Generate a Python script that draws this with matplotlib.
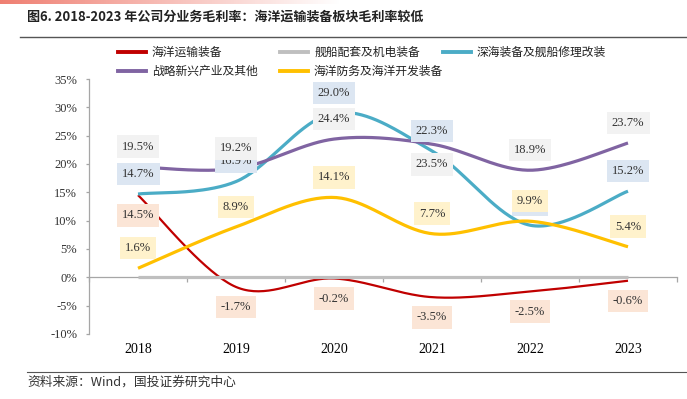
import numpy as np
import matplotlib
matplotlib.use("Agg")
import matplotlib.pyplot as plt
from matplotlib.lines import Line2D
from matplotlib.colors import LinearSegmentedColormap

# ---------------- data ----------------
years = ["2018", "2019", "2020", "2021", "2022", "2023"]
series_names = ["海洋运输装备", "舰船配套及机电装备", "深海装备及舰船修理改装",
                "战略新兴产业及其他", "海洋防务及海洋开发装备"]
marine_transport = [14.5, -1.7, -0.2, -3.5, -2.5, -0.6]
ship_supporting = [0.0, 0.0, 0.0, 0.0, 0.0, 0.0]
deep_sea = [14.7, 16.9, 29.0, 22.3, 9.2, 15.2]
strategic = [19.5, 19.2, 24.4, 23.5, 18.9, 23.7]
defense = [1.6, 8.9, 14.1, 7.7, 9.9, 5.4]
y_ticks = [-10, -5, 0, 5, 10, 15, 20, 25, 30, 35]

title = "图6. 2018-2023 年公司分业务毛利率：海洋运输装备板块毛利率较低"
source = "资料来源：Wind，国投证券研究中心"

# ---------------- styles ----------------
line_colors = ["#C00000", "#BFBFBF", "#4BACC6", "#8064A2", "#FFC000"]
line_widths = [1.6, 2.3, 2.3, 2.3, 2.3]
box_colors = ["#FBE5D6", None, "#DCE6F2", "#F2F2F2", "#FFF2CC"]
label_dirs = [
    [-1, -1, -1, -1, -1, -1],
    None,
    [1, 1, 1, 1, 1, 1],
    [1, 1, 1, -1, 1, 1],
    [1, 1, 1, 1, 1, 1],
]
# legend slots (figure pixels: line start x, row y)
legend_slots = [(118, 52), (280, 52), (443, 52), (118, 71), (280, 71)]

CJK = ["Noto Sans CJK SC", "DejaVu Sans"]
SERIF = ["Liberation Serif", "DejaVu Serif"]
plt.rcParams["font.family"] = SERIF

W, H = 687, 399


def smooth(xs, ys, n=40):
    """Excel-like smoothed line (Bezier with Catmull-Rom control points)."""
    xs = np.asarray(xs, float)
    ys = np.asarray(ys, float)
    px, py = [], []
    m = len(xs)
    for i in range(m - 1):
        i0 = max(i - 1, 0)
        i3 = min(i + 2, m - 1)
        p0 = np.array([xs[i], ys[i]])
        p3 = np.array([xs[i + 1], ys[i + 1]])
        c1 = p0 + (np.array([xs[i + 1], ys[i + 1]]) - np.array([xs[i0], ys[i0]])) / 6.0
        c2 = p3 - (np.array([xs[i3], ys[i3]]) - np.array([xs[i], ys[i]])) / 6.0
        t = np.linspace(0, 1, n)[:, None]
        b = ((1 - t) ** 3) * p0 + 3 * ((1 - t) ** 2) * t * c1 + 3 * (1 - t) * t ** 2 * c2 + t ** 3 * p3
        if i > 0:
            b = b[1:]
        px.extend(b[:, 0])
        py.extend(b[:, 1])
    return np.array(px), np.array(py)


fig = plt.figure(figsize=(W / 100, H / 100), dpi=100)
ax = fig.add_axes([89 / W, 1 - 334 / H, (677 - 89) / W, (334 - 79) / H])

x = np.arange(len(years))
all_series = [marine_transport, ship_supporting, deep_sea, strategic, defense]

for k, vals in enumerate(all_series):
    sx, sy = smooth(x, vals)
    ax.plot(sx, sy, color=line_colors[k], lw=line_widths[k], solid_capstyle="butt",
            zorder=3 + k * 0.1)

for k, vals in enumerate(all_series):
    if label_dirs[k] is None:
        continue
    for i, v in enumerate(vals):
        d = label_dirs[k][i]
        ax.annotate(f"{v:.1f}%", (x[i], v), xytext=(0, 14.5 * d), textcoords="offset points",
                    ha="center", va="center", fontsize=9, family=SERIF, color="#333333",
                    bbox=dict(boxstyle="square,pad=0.42", fc=box_colors[k], ec="none"),
                    zorder=10 + k)

ax.set_xlim(-0.5, 5.5)
ax.set_ylim(-10, 35)
ax.set_yticks(y_ticks)
ax.set_yticklabels([f"{t}%" for t in y_ticks])
ax.set_xticks(x)
ax.set_xticklabels(years)
ax.set_xticks(np.arange(-0.5, 6, 1), minor=True)
ax.tick_params(axis="x", which="major", length=0, pad=47)
ax.tick_params(axis="x", which="minor", length=3.5, color="#A6A6A6", width=0.9, direction="out")
ax.tick_params(axis="y", length=2.5, color="#A6A6A6", width=0.9, pad=6)
for lab in ax.get_xticklabels() + ax.get_yticklabels():
    lab.set_fontfamily(SERIF)
    lab.set_fontsize(9)
    lab.set_color("#333333")

for s in ["top", "right"]:
    ax.spines[s].set_visible(False)
ax.spines["bottom"].set_position(("data", 0))
ax.spines["bottom"].set_color("#A6A6A6")
ax.spines["bottom"].set_linewidth(0.9)
ax.spines["left"].set_color("#A6A6A6")
ax.spines["left"].set_linewidth(0.9)
ax.set_facecolor("none")

# legend (manual placement)
for k, (lx, ly) in enumerate(legend_slots):
    yy = 1 - ly / H
    fig.add_artist(Line2D([lx / W, (lx + 28) / W], [yy, yy], color=line_colors[k], lw=2.8))
    fig.text((lx + 34) / W, yy, series_names[k], family=CJK, fontsize=8.5,
             color="#222222", va="center", ha="left")

# top gradient bar
grad = np.linspace(0, 1, 256)[None, :]
gax = fig.add_axes([0, 1 - 4 / H, 340 / W, 4 / H])
cmap = LinearSegmentedColormap.from_list("g", ["#EF7F72", "#FFFFFF"])
gax.imshow(grad, aspect="auto", cmap=cmap, extent=(0, 1, 0, 1))
gax.axis("off")

# title
fig.text(27 / W, 1 - 17 / H, title, family=CJK, fontsize=9.4, fontweight="bold",
         color="#222222", va="center", ha="left")
fig.add_artist(Line2D([20 / W, 1], [1 - 37 / H, 1 - 37 / H], color="#555555", lw=1.0))

# source
fig.add_artist(Line2D([27 / W, 1], [1 - 372 / H, 1 - 372 / H], color="#555555", lw=0.8))
fig.text(27 / W, 1 - 382 / H, source, family=CJK, fontsize=9.2, color="#333333",
         va="center", ha="left", style="italic")

fig.savefig("out.png", dpi=100)
